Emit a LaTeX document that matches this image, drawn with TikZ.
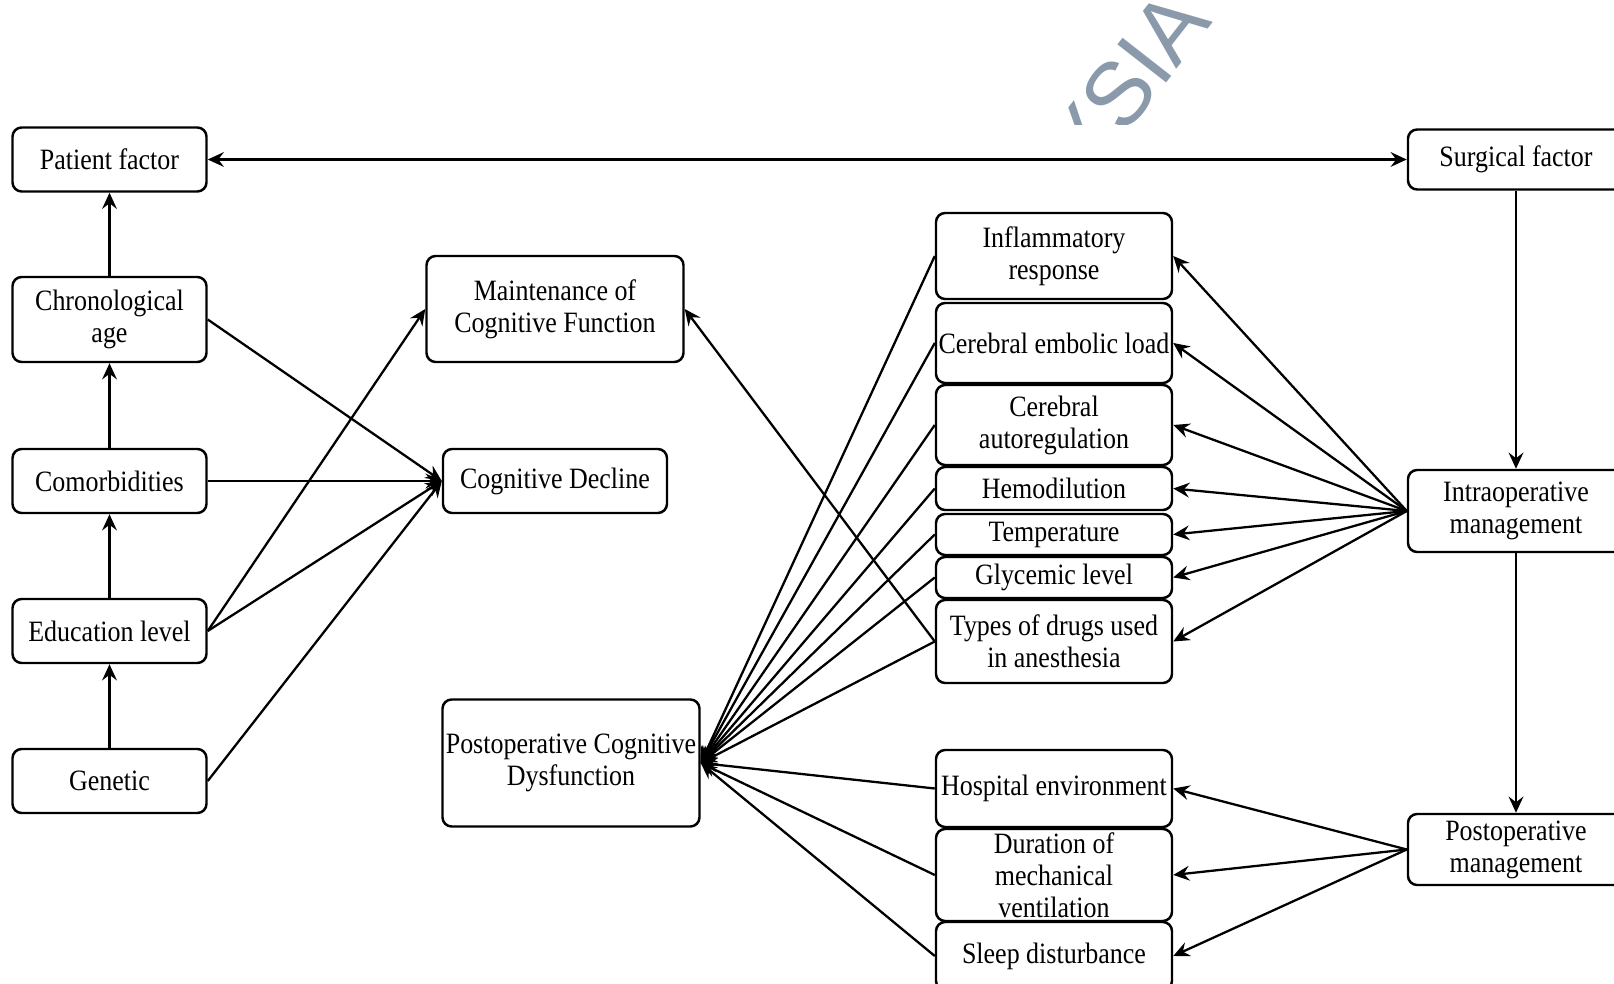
\documentclass[tikz,border=0pt]{standalone}
\usepackage{fontspec}
\setmainfont{Liberation Serif}[FakeStretch=0.88]
\newfontfamily\wmfont{Liberation Sans}
\usetikzlibrary{arrows.meta}
\definecolor{wmgrau}{RGB}{138,154,170}

\begin{document}
\begin{tikzpicture}[x=0.1mm, y=-0.1mm,
    >={Stealth[length=4.6pt,width=4.2pt,inset=1.6pt]},
    kasten/.style={draw, rounded corners=2.6pt, line width=0.7pt, align=center, inner sep=0pt, font=\fontsize{8.4}{9.1}\selectfont},
    links/.style={kasten, minimum width=19.4mm},
    mitte/.style={kasten, minimum width=23.6mm},
    rechts/.style={kasten, minimum width=21.6mm},
    pfeil/.style={->, line width=0.65pt}]
    \clip (0,0) rectangle (1614,984); % Bildrand
    % Wasserzeichen:
    \begin{scope}
        \clip (0,0) rectangle (1614,125);
        \node[text=wmgrau, font=\wmfont\fontsize{25.6}{25.6}\selectfont, rotate=52, anchor=base east, inner sep=0pt] (wz) at (1214,22) {YSIA};
    \end{scope}
    % linke Spalte:
    \node[links, minimum height=6.4mm] (patient) at (109.5,159.5) {Patient factor};
    \node[links, minimum height=8.5mm] (alter) at (109.5,319.5) {Chronological\\age};
    \node[links, minimum height=6.4mm] (komorb) at (109.5,481) {Comorbidities};
    \node[links, minimum height=6.4mm] (bildung) at (109.5,631) {Education level};
    \node[links, minimum height=6.4mm] (genetik) at (109.5,781) {Genetic};
    % Ergebnisse:
    \node[kasten, minimum width=25.7mm, minimum height=10.6mm] (erhalt) at (555,309) {Maintenance of\\Cognitive Function};
    \node[kasten, minimum width=22.4mm, minimum height=6.4mm] (abbau) at (555,481) {Cognitive Decline};
    \node[kasten, minimum width=25.7mm, minimum height=12.7mm] (pocd) at (571,763) {Postoperative Cognitive\\Dysfunction};
    % intraoperative Faktoren:
    \node[mitte, minimum height=8.6mm] (entz) at (1054,256) {Inflammatory\\response};
    \node[mitte, minimum height=8.0mm] (embol) at (1054,343) {Cerebral embolic load};
    \node[mitte, minimum height=8.0mm] (autoreg) at (1054,425) {Cerebral\\autoregulation};
    \node[mitte, minimum height=4.3mm] (haemo) at (1054,488.5) {Hemodilution};
    \node[mitte, minimum height=4.1mm] (temp) at (1054,534.5) {Temperature};
    \node[mitte, minimum height=4.1mm] (glyk) at (1054,577.5) {Glycemic level};
    \node[mitte, minimum height=8.3mm] (drogen) at (1054,641.5) {Types of drugs used\\in anesthesia};
    % postoperative Faktoren:
    \node[mitte, minimum height=7.7mm] (klinik) at (1054,788.5) {Hospital environment};
    \node[mitte, minimum height=9.2mm] (beatm) at (1054,875) {Duration of\\mechanical\\ventilation};
    \node[mitte, minimum height=6.8mm] (schlaf) at (1054,956) {Sleep disturbance};
    % rechte Spalte:
    \node[rechts, minimum height=6.0mm] (chirurg) at (1516,159.5) {Surgical factor};
    \node[rechts, minimum height=8.2mm] (intraop) at (1516,511) {Intraoperative\\management};
    \node[rechts, minimum height=7.1mm] (postop) at (1516,849.5) {Postoperative\\management};
    % Pfeile links:
    \draw[<->, line width=0.65pt] (patient) -- (chirurg);
    \draw[pfeil] (alter) -- (patient);
    \draw[pfeil] (komorb) -- (alter);
    \draw[pfeil] (bildung) -- (komorb);
    \draw[pfeil] (genetik) -- (bildung);
    \draw[pfeil] (alter.east) -- (abbau.west);
    \draw[pfeil] (komorb.east) -- (abbau.west);
    \draw[pfeil] (bildung.east) -- (abbau.west);
    \draw[pfeil] (bildung.east) -- (erhalt.west);
    \draw[pfeil] (genetik.east) -- (abbau.west);
    \draw[pfeil] (drogen.west) -- (erhalt.east);
    % Pfeile zur POCD:
    \draw[pfeil] (entz.west) -- (pocd.east);
    \draw[pfeil] (embol.west) -- (pocd.east);
    \draw[pfeil] (autoreg.west) -- (pocd.east);
    \draw[pfeil] (haemo.west) -- (pocd.east);
    \draw[pfeil] (temp.west) -- (pocd.east);
    \draw[pfeil] (glyk.west) -- (pocd.east);
    \draw[pfeil] (drogen.west) -- (pocd.east);
    \draw[pfeil] (klinik.west) -- (pocd.east);
    \draw[pfeil] (beatm.west) -- (pocd.east);
    \draw[pfeil] (schlaf.west) -- (pocd.east);
    % Pfeile rechts:
    \draw[pfeil] (chirurg) -- (intraop);
    \draw[pfeil] (intraop) -- (postop);
    \draw[pfeil] (intraop.west) -- (entz.east);
    \draw[pfeil] (intraop.west) -- (embol.east);
    \draw[pfeil] (intraop.west) -- (autoreg.east);
    \draw[pfeil] (intraop.west) -- (haemo.east);
    \draw[pfeil] (intraop.west) -- (temp.east);
    \draw[pfeil] (intraop.west) -- (glyk.east);
    \draw[pfeil] (intraop.west) -- (drogen.east);
    \draw[pfeil] (postop.west) -- (klinik.east);
    \draw[pfeil] (postop.west) -- (beatm.east);
    \draw[pfeil] (postop.west) -- (schlaf.east);
\end{tikzpicture}
\end{document}
